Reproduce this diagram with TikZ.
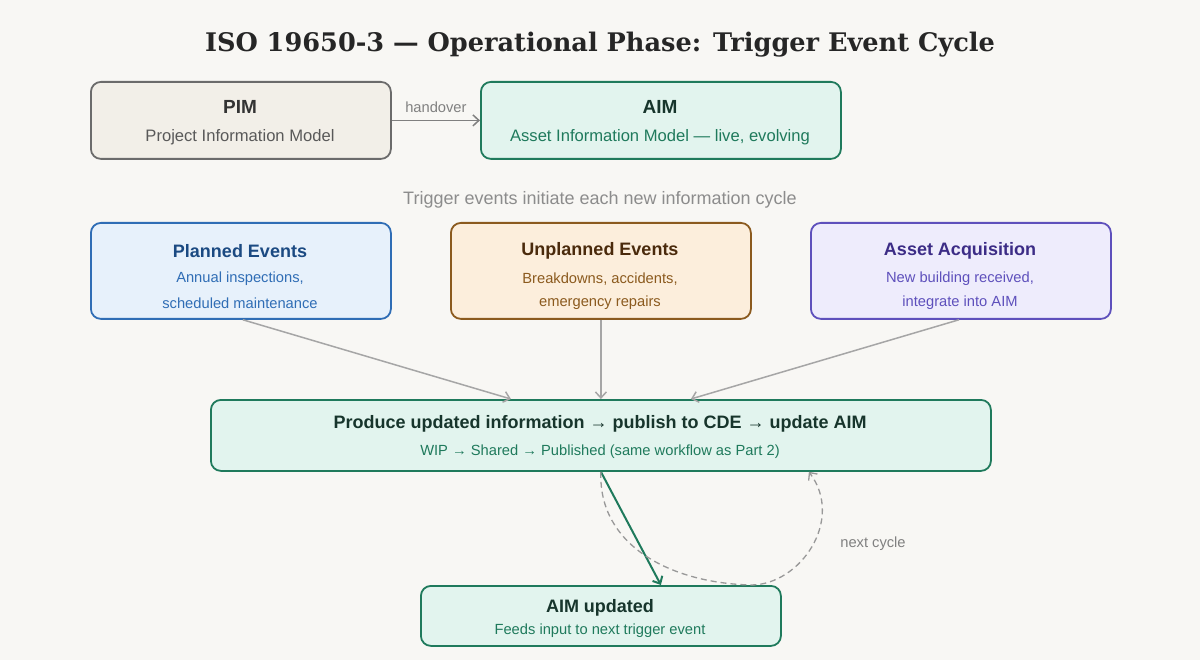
\documentclass[tikz,border=0pt]{standalone}
\usepackage{fontspec}
\setmainfont{Liberation Sans}
\newfontfamily\titlefont{DejaVu Serif}
\usetikzlibrary{arrows.meta}
\definecolor{bgc}{HTML}{F8F7F4}
\definecolor{pimfill}{HTML}{F2EFE8}
\definecolor{pimline}{HTML}{6B6B6B}
\definecolor{aimfill}{HTML}{E2F4EE}
\definecolor{aimline}{HTML}{1F7A5C}
\definecolor{aimdark}{HTML}{17352C}
\definecolor{plfill}{HTML}{E7F1FB}
\definecolor{plline}{HTML}{2F6DB5}
\definecolor{pldark}{HTML}{1B4A82}
\definecolor{unfill}{HTML}{FCEEDC}
\definecolor{unline}{HTML}{8B5A1E}
\definecolor{undark}{HTML}{4A2A0C}
\definecolor{acfill}{HTML}{EEECFC}
\definecolor{acline}{HTML}{5E50BC}
\definecolor{acdark}{HTML}{3C2C86}
\def\fs#1{\fontsize{#1}{#1}\selectfont}
\tikzset{
  box/.style={draw, line width=1.8pt, rounded corners=10pt, inner sep=0pt, anchor=north west},
  head/.style={font=\bfseries\fs{18}, yshift=-2pt},
  sub/.style={font=\fs{16.6}, yshift=-2pt},
  small/.style={font=\fs{14.7}, yshift=-2pt},
  flow/.style={draw=black!35, line width=1.5pt, -{Straight Barb[length=6pt,width=11pt]}},
}
\begin{document}
\begin{tikzpicture}[x=1pt,y=-1pt]
  %%%%% START %%%%%
  \fill[bgc] (0,0) rectangle (1200,660);
  \useasboundingbox (0,0) rectangle (1200,660);

  \node[font=\titlefont\bfseries\fs{25.6}, text=black!85, yshift=-3pt] (title) at (600,42) {ISO 19650-3 — Operational Phase: Trigger Event Cycle};

  % top row
  \node[box, draw=pimline, fill=pimfill, minimum width=300pt, minimum height=77pt] (pim) at (90,81) {};
  \node[head, font=\bfseries\fs{19}, text=black!80] (pimh) at (240,105) {PIM};
  \node[sub, text=black!65] (pims) at (240,135) {Project Information Model};

  \node[box, draw=aimline, fill=aimfill, minimum width=360pt, minimum height=77pt] (aim) at (480,81) {};
  \node[head, font=\bfseries\fs{19}, text=aimdark] (aimh) at (660,105) {AIM};
  \node[sub, text=aimline] (aims) at (660,135) {Asset Information Model — live, evolving};

  \draw[flow, draw=black!50] (pim.east) -- (aim.west) node[midway, above=6pt, small, text=black!50] {handover};

  \node[font=\fs{18}, text=black!45, yshift=-2pt] (trig) at (600,198) {Trigger events initiate each new information cycle};

  % trigger events
  \node[box, draw=plline, fill=plfill, minimum width=300pt, minimum height=96pt] (plan) at (90,222) {};
  \node[head, text=pldark] (planh) at (240,249) {Planned Events};
  \node[small, text=plline] (plan1) at (240,277) {Annual inspections,};
  \node[small, text=plline] (plan2) at (240,301) {scheduled maintenance};

  \node[box, draw=unline, fill=unfill, minimum width=300pt, minimum height=96pt] (unpl) at (450,222) {};
  \node[head, text=undark] (unplh) at (600,249) {Unplanned Events};
  \node[small, text=unline] (unpl1) at (600,277) {Breakdowns, accidents,};
  \node[small, text=unline] (unpl2) at (600,301) {emergency repairs};

  \node[box, draw=acline, fill=acfill, minimum width=300pt, minimum height=96pt] (acq) at (810,222) {};
  \node[head, text=acdark] (acqh) at (960,249) {Asset Acquisition};
  \node[small, text=acline] (acq1) at (960,277) {New building received,};
  \node[small, text=acline] (acq2) at (960,301) {integrate into AIM};

  % produce
  \node[box, draw=aimline, fill=aimfill, minimum width=780pt, minimum height=71pt] (prod) at (210,399) {};
  \node[head, text=aimdark] (prodh) at (600,422) {Produce updated information → publish to CDE → update AIM};
  \node[small, text=aimline] (prods) at (600,450) {WIP → Shared → Published (same workflow as Part 2)};

  \draw[flow] ([xshift=2pt]plan.south) -- ([xshift=-90pt]prod.north);
  \draw[flow] (unpl.south) -- (prod.north);
  \draw[flow] ([xshift=-2pt]acq.south) -- ([xshift=90pt]prod.north);

  % updated
  \node[box, draw=aimline, fill=aimfill, minimum width=360pt, minimum height=60pt] (upd) at (420,585) {};
  \node[head, text=aimdark] (updh) at (600,606) {AIM updated};
  \node[small, text=aimline] (upds) at (600,629) {Feeds input to next trigger event};

  \draw[flow, draw=aimline, line width=2pt] (prod.south) -- ([xshift=60pt]upd.north);

  \draw[flow, draw=black!40, dashed, dash pattern=on 6pt off 4pt, line width=1.3pt]
    (prod.south) .. controls (598,545) and (670,583) .. ([xshift=150pt]upd.north)
    .. controls (800,585) and (845,520) .. ([xshift=208pt]prod.south);
  \node[small, text=black!50] (next) at (873,542) {next cycle};
  %%%%% END %%%%%
\end{tikzpicture}
\end{document}
